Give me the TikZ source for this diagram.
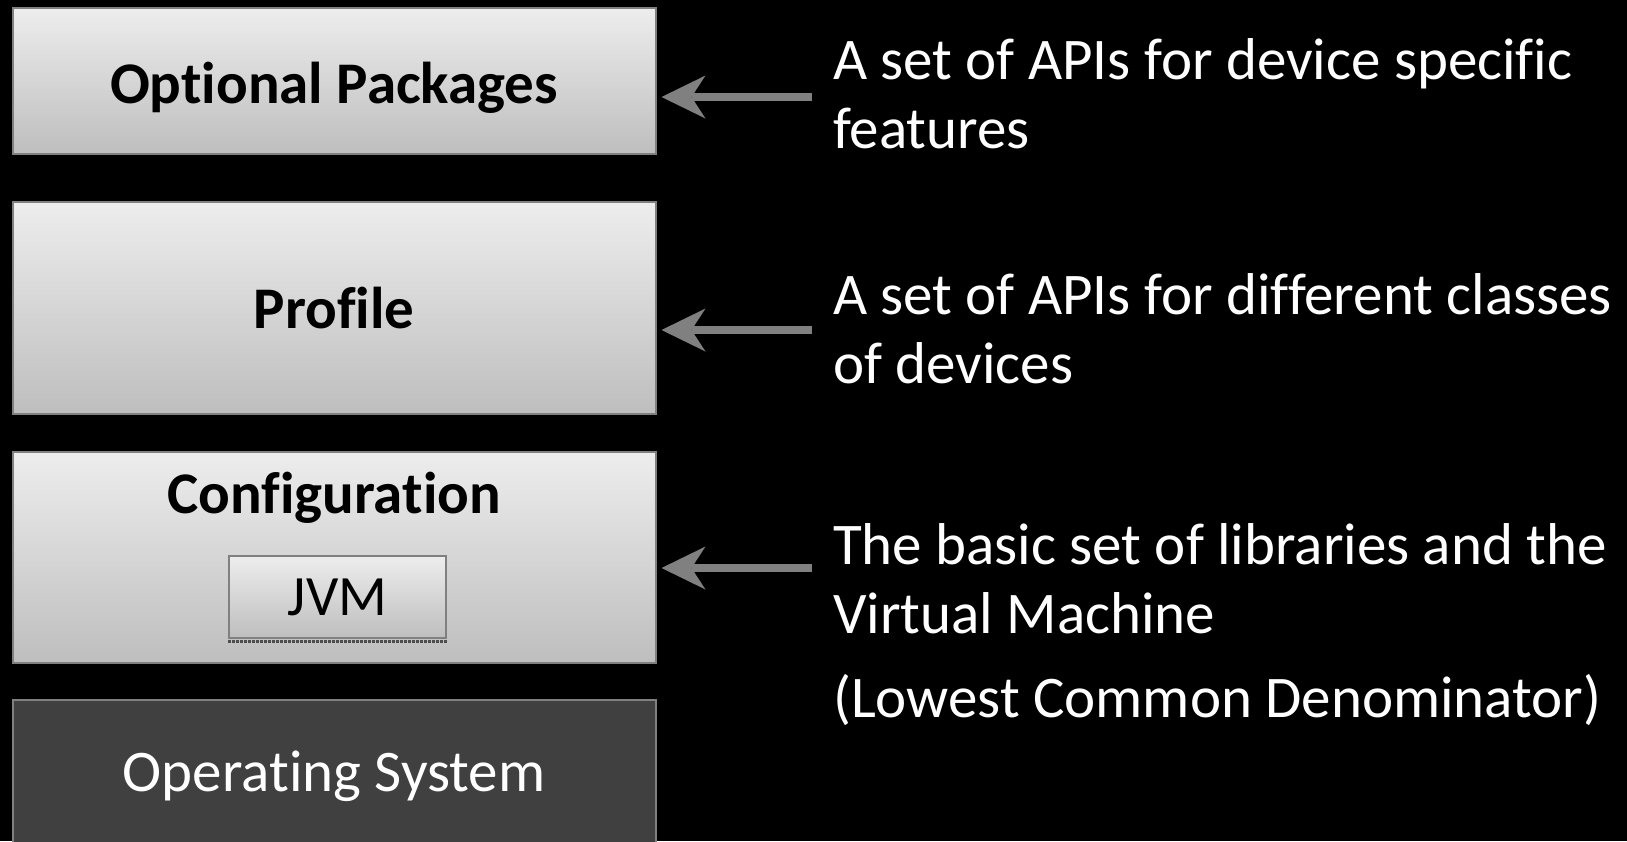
\documentclass[tikz,border=0pt]{standalone}
\usepackage{fontspec}
\setmainfont{Carlito}[Ligatures=NoCommon]
\usetikzlibrary{arrows.meta,positioning}
\definecolor{layertop}{RGB}{237,237,237}
\definecolor{layerbottom}{RGB}{190,190,190}
\definecolor{layeredge}{RGB}{128,128,128}
\definecolor{osfill}{RGB}{64,64,64}
\tikzset{
  layer/.style={draw=layeredge, line width=2pt, top color=layertop, bottom color=layerbottom,
    minimum width=643pt},
  oslayer/.style={draw=layeredge, line width=2pt, fill=osfill, minimum width=643pt},
  layername/.style={anchor=base, inner sep=0pt, font=\fontsize{59}{62}\selectfont\bfseries},
  vmbox/.style={draw=layeredge, line width=2pt, top color=layertop, bottom color=layerbottom,
    minimum width=217pt, minimum height=82pt, font=\fontsize{57}{60}\selectfont},
  desc/.style={anchor=base west, align=left, text=white, inner sep=0pt,
    font=\fontsize{59}{69}\selectfont},
  descarrow/.style={draw=layeredge, line width=8pt, shorten >=5pt,
    -{Stealth[length=44pt,width=43pt,inset=14pt,line width=0pt]}}
}
\begin{document}
\begin{tikzpicture}[x=1pt,y=-1pt]
  \useasboundingbox (0,0) rectangle (1627,841);
  \fill[black] (0,0) rectangle (1627,841);

  % the stack
  \node[layer, minimum height=146pt] (opt) at (334,81) {};
  \node[layer, minimum height=212pt] (prof) at (334,308) {};
  \node[layer, minimum height=211pt] (conf) at (334,557.5) {};
  \node[oslayer, minimum height=160pt] (os) at (334,780) {};
  \node[layername] (optname) at (334,103) {Optional Packages};
  \node[layername] (profname) at (334,328) {Profile};
  \node[layername] (confname) at (334,513) {Configuration};
  \node[layername, font=\fontsize{59}{62}\selectfont, text=white] (osname) at (334,791) {Operating System};
  \node[vmbox] (jvm) at (337.5,597) {JVM};
  \draw[layeredge!60!black, line width=3pt, densely dotted] ([yshift=-2pt]jvm.south west) -- ([yshift=-2pt]jvm.south east);

  % what each layer gives
  \node[desc] (optdesc) at (833,148) {A set of APIs for device specific\\features};
  \node[desc] (profdesc) at (833,383) {A set of APIs for different classes\\of devices};
  \node[desc] (confdesc) at (833,717) {The basic set of libraries and the\\Virtual Machine\\[15pt](Lowest Common Denominator)};

  \coordinate (optTail) at (812,97);
  \coordinate (profTail) at (812,330);
  \coordinate (confTail) at (812,568);
  \draw[descarrow] (optTail) -- (optTail -| opt.east);
  \draw[descarrow] (profTail) -- (profTail -| prof.east);
  \draw[descarrow] (confTail) -- (confTail -| conf.east);
\end{tikzpicture}
\end{document}
